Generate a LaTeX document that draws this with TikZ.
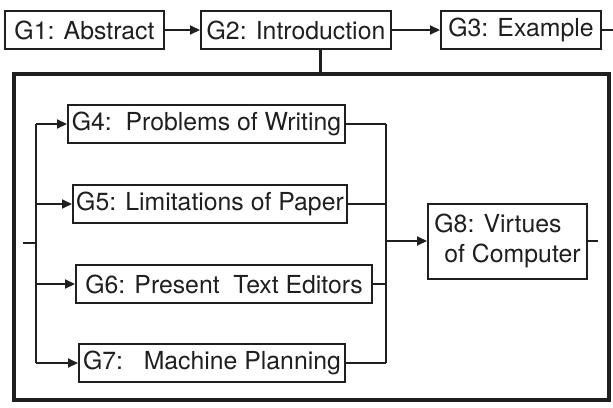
\documentclass[tikz,border=0pt]{standalone}
\usepackage{fontspec}
\setmainfont{TeX Gyre Heros}
\usetikzlibrary{arrows.meta}

\begin{document}
\begin{tikzpicture}[x=0.5pt, y=-0.5pt, line width=1pt, color={black!88},
    font=\fontsize{12.4}{15}\selectfont,
    arr/.style={-{Triangle[length=5pt,width=4.5pt]}}]
    \useasboundingbox (0,0) rectangle (613,407);
    \begin{scope}[every node/.style={draw, minimum height=19pt, inner sep=0pt}]
        \node[minimum width=79.5pt] (g1) at (84.5, 30) {G1: Abstract};
        \node[minimum width=95pt] (g2) at (296, 30) {G2: Introduction};
        \node[minimum width=80pt] (g3) at (521, 30) {G3: Example};
        \node[minimum width=138.5pt] (g4) at (206.5, 124) {G4:\ \ Problems of Writing};
        \node[minimum width=137pt] (g5) at (210, 204) {G5: Limitations of Paper};
        \node[minimum width=148pt] (g6) at (224, 284) {G6: Present\ \ Text Editors};
        \node[minimum width=133pt] (g7) at (212, 363) {G7:\ \ \ Machine Planning};
        \node[minimum width=79.5pt, minimum height=37.5pt, align=left] (g8) at (507.5, 241)
            {G8: Virtues\\\hspace{0.4em}of Computer};
    \end{scope}
    % free ends and bus lines
    \coordinate (drop) at (320, 74);
    \coordinate (exit) at (613, 30);
    \coordinate (inlet) at (23, 243);
    \coordinate (lbus) at (36, 243);
    \coordinate (rbus) at (386, 241);
    \coordinate (outlet) at (598, 241);
    % frame round the introduction parts
    \draw[line width=2.3pt] (14, 74) rectangle (609, 400);
    \path [arr] (g1) edge (g2);
    \path [arr] (g2) edge (g3);
    \draw (g3) -- (exit);
    \draw[line width=1.5pt] (g2.south -| drop) -- (drop);
    \draw (inlet) -- (lbus);
    \draw (lbus |- g4) -- (lbus |- g7);
    \draw (rbus |- g4) -- (rbus |- g7);
    \foreach \g in {g4, g5, g6, g7} {
        \draw[arr] (lbus |- \g) -- (\g);
        \draw (\g) -- (rbus |- \g);
    }
    \draw[arr] (rbus) -- (g8);
    \draw (g8) -- (outlet);
\end{tikzpicture}
\end{document}
